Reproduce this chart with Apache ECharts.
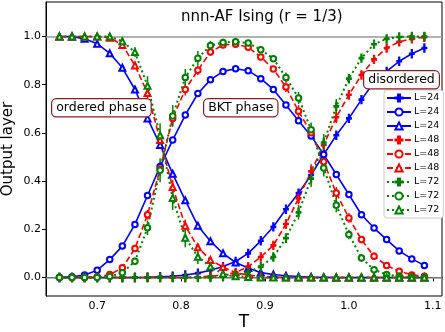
<!DOCTYPE html>
<html>
<head>
<meta charset="utf-8">
<script src="https://cdn.jsdelivr.net/npm/echarts@6/dist/echarts.min.js"></script>
<style>
html, body { margin: 0; padding: 0; background: #fff; }
#chart { width: 445px; height: 332px; }
</style>
</head>
<body>
<div id="chart"></div>
<script>
// temperatures
var temps = [0.655, 0.670, 0.685, 0.700, 0.715, 0.730, 0.745, 0.760, 0.775, 0.790,
             0.805, 0.820, 0.835, 0.850, 0.865, 0.880, 0.895, 0.910, 0.925, 0.940,
             0.955, 0.970, 0.985, 1.000, 1.015, 1.030, 1.045, 1.060, 1.075, 1.090];

// L=24
var dis24 = [0, 0, 0, 0, 0, 0, 0, 0.001, 0.003, 0.005, 0.01, 0.018, 0.03, 0.045, 0.066,
             0.10, 0.152, 0.21, 0.283, 0.35, 0.425, 0.51, 0.59, 0.66, 0.738, 0.81, 0.855, 0.897, 0.928, 0.952];
var bkt24 = [0, 0.003, 0.01, 0.03, 0.074, 0.13, 0.22, 0.34, 0.46, 0.57, 0.674, 0.763, 0.82, 0.855, 0.866,
             0.858, 0.825, 0.78, 0.716, 0.65, 0.587, 0.51, 0.427, 0.344, 0.26, 0.205, 0.157, 0.11, 0.077, 0.05];
var ord24 = [1.0, 1.0, 0.99, 0.97, 0.93, 0.87, 0.78, 0.66, 0.55, 0.43, 0.32, 0.215, 0.15, 0.10, 0.062,
             0.039, 0.02, 0.012, 0.007, 0.004, 0.002, 0.001, 0, 0, 0, 0, 0, 0, 0, 0];

// L=48
var dis48 = [0, 0, 0, 0, 0, 0, 0, 0, 0, 0, 0, 0.002, 0.005, 0.01, 0.02,
             0.045, 0.085, 0.133, 0.222, 0.328, 0.44, 0.55, 0.665, 0.758, 0.84, 0.905, 0.952, 0.978, 0.99, 0.997];
var bkt48 = [0, 0, 0, 0.003, 0.012, 0.04, 0.12, 0.26, 0.45, 0.66, 0.78, 0.86, 0.935, 0.965, 0.968,
             0.955, 0.915, 0.865, 0.79, 0.69, 0.60, 0.48, 0.35, 0.247, 0.157, 0.088, 0.05, 0.026, 0.01, 0.005];
var ord48 = [1, 1, 1, 1, 0.995, 0.965, 0.88, 0.765, 0.57, 0.375, 0.215, 0.125, 0.072, 0.043, 0.02,
             0.01, 0.005, 0.002, 0, 0, 0, 0, 0, 0, 0, 0, 0, 0, 0, 0];

// L=72
var dis72 = [0, 0, 0, 0, 0, 0, 0, 0, 0, 0, 0, 0, 0, 0.003, 0.01,
             0.022, 0.045, 0.085, 0.163, 0.27, 0.41, 0.56, 0.71, 0.825, 0.91, 0.968, 0.99, 0.998, 1.0, 1.0];
var bkt72 = [0, 0, 0, 0, 0.004, 0.019, 0.067, 0.206, 0.445, 0.67, 0.83, 0.91, 0.962, 0.975, 0.978,
             0.973, 0.945, 0.908, 0.83, 0.745, 0.613, 0.454, 0.30, 0.178, 0.081, 0.032, 0.012, 0.005, 0.002, 0];
var ord72 = [1, 1, 1, 1, 1, 0.98, 0.935, 0.795, 0.59, 0.33, 0.165, 0.086, 0.045, 0.015, 0.005,
             0.002, 0, 0, 0, 0, 0, 0, 0, 0, 0, 0, 0, 0, 0, 0];

// error bars (half length)
var dis48Err = [0, 0, 0, 0, 0, 0, 0, 0, 0, 0, 0, 0, 0, 0, 0,
                0, 0, 0.015, 0.02, 0.025, 0.03, 0.03, 0.025, 0.02, 0.015, 0.01, 0, 0, 0, 0];
var bkt48Err = [0, 0, 0, 0, 0, 0, 0, 0.02, 0.03, 0.03, 0.025, 0.02, 0.015, 0, 0,
                0, 0, 0, 0.02, 0.025, 0.025, 0.03, 0.025, 0.02, 0.015, 0.015, 0, 0, 0, 0];
var ord48Err = [0, 0, 0, 0, 0, 0, 0.015, 0.025, 0.03, 0.03, 0.025, 0.015, 0.01, 0, 0,
                0, 0, 0, 0, 0, 0, 0, 0, 0, 0, 0, 0, 0, 0, 0];
var dis72Err = [0, 0, 0, 0, 0, 0, 0, 0, 0, 0, 0, 0, 0, 0, 0,
                0, 0, 0.015, 0.02, 0.03, 0.035, 0.035, 0.03, 0.02, 0.01, 0, 0, 0, 0, 0];
var bkt72Err = [0, 0, 0, 0, 0, 0, 0.015, 0.03, 0.05, 0.045, 0.035, 0.03, 0.02, 0.015, 0,
                0, 0, 0, 0.02, 0.025, 0.03, 0.035, 0.03, 0.02, 0.015, 0, 0, 0, 0, 0];
var ord72Err = [0, 0, 0, 0, 0, 0, 0.02, 0.04, 0.05, 0.05, 0.04, 0.03, 0.015, 0, 0,
                0, 0, 0, 0, 0, 0, 0, 0, 0, 0, 0, 0, 0, 0, 0];

var xTicks = [0.7, 0.8, 0.9, 1.0, 1.1];
var yTicks = [0, 0.2, 0.4, 0.6, 0.8, 1.0];

var BLUE = '#0000ff', RED = '#ff0000', GREEN = '#008000';
var plusSym = 'path://M-0.6,-4H0.6V-0.6H2.2V0.6H0.6V4H-0.6V0.6H-2.2V-0.6H-0.6Z';

function pts(ys) {
    return temps.map(function (t, i) { return [t, ys[i]]; });
}

function lineSeries(name, ys, color, dash, width, symbol, size) {
    return {
        name: name,
        type: 'line',
        data: pts(ys),
        symbol: symbol,
        symbolSize: size,
        showAllSymbol: true,
        lineStyle: { color: color, width: width, type: dash },
        itemStyle: { color: color, borderColor: color, borderWidth: 1.1 },
        emphasis: { disabled: true }
    };
}

function errSeries(ys, errs, color) {
    return {
        type: 'custom',
        silent: true,
        data: temps.map(function (t, i) { return [t, ys[i], errs[i]]; }),
        encode: { x: 0, y: 1 },
        renderItem: function (params, api) {
            var e = api.value(2);
            if (!e) return;
            var x = api.value(0), y = api.value(1);
            var p1 = api.coord([x, y - e]), p2 = api.coord([x, y + e]);
            return {
                type: 'line',
                shape: { x1: p1[0], y1: p1[1], x2: p2[0], y2: p2[1] },
                style: { stroke: color, lineWidth: 1.5 }
            };
        }
    };
}

var series = [
    lineSeries('L=24 a', dis24, BLUE, 'solid', 1.6, plusSym, [5, 8]),
    lineSeries('L=24 b', bkt24, BLUE, 'solid', 1.6, 'emptyCircle', 5.5),
    lineSeries('L=24 c', ord24, BLUE, 'solid', 1.6, 'emptyTriangle', 6),
    lineSeries('L=48 a', dis48, RED, [6, 3], 1.6, plusSym, [5, 8]),
    lineSeries('L=48 b', bkt48, RED, [6, 3], 1.6, 'emptyCircle', 5.5),
    lineSeries('L=48 c', ord48, RED, [6, 3], 1.6, 'emptyTriangle', 6),
    lineSeries('L=72 a', dis72, GREEN, [2, 3], 2, plusSym, [5, 8]),
    lineSeries('L=72 b', bkt72, GREEN, [2, 3], 2, 'emptyCircle', 5.5),
    lineSeries('L=72 c', ord72, GREEN, [2, 3], 2, 'emptyTriangle', 6),
    errSeries(dis48, dis48Err, RED),
    errSeries(bkt48, bkt48Err, RED),
    errSeries(ord48, ord48Err, RED),
    errSeries(dis72, dis72Err, GREEN),
    errSeries(bkt72, bkt72Err, GREEN),
    errSeries(ord72, ord72Err, GREEN)
];

// gray reference lines at 0 and 1
series[0].markLine = {
    silent: true,
    symbol: 'none',
    label: { show: false },
    lineStyle: { color: '#999', width: 1.5, type: 'solid' },
    data: [{ yAxis: 0 }, { yAxis: 1 }],
    z: 1
};

var legendNames = series.slice(0, 9).map(function (s) { return s.name; });

function boxText(txt, left, top) {
    return {
        type: 'text',
        left: left,
        top: top,
        z: 100,
        style: {
            text: txt,
            font: '12.5px "DejaVu Sans"',
            fill: '#000',
            backgroundColor: '#fff',
            borderColor: '#8b1c1c',
            borderWidth: 1.2,
            borderRadius: 4,
            padding: [2, 4, 2, 4]
        }
    };
}

var chart = echarts.init(document.getElementById('chart'));
chart.setOption({
    animation: false,
    textStyle: { fontFamily: 'DejaVu Sans' },
    title: {
        text: 'nnn-AF Ising (r = 1/3)',
        left: 181,
        top: 10,
        padding: 0,
        textStyle: { fontSize: 15, fontWeight: 'normal', color: '#000', fontFamily: 'DejaVu Sans' }
    },
    grid: {
        left: 46, right: 3, top: 2, bottom: 36,
        outerBoundsMode: 'none',
        containLabel: false,
        show: true, borderColor: '#000', borderWidth: 1, backgroundColor: 'transparent'
    },
    legend: {
        data: legendNames,
        orient: 'vertical',
        left: 384,
        top: 90,
        itemWidth: 24,
        itemHeight: 9,
        itemGap: 4,
        padding: [3, 4, 3, 2],
        backgroundColor: '#fff',
        borderColor: '#ccc',
        borderWidth: 1,
        borderRadius: 3,
        z: 50,
        formatter: function (n) { return n.split(' ')[0]; },
        textStyle: { fontSize: 9.5, lineHeight: 9, color: '#000', fontFamily: 'DejaVu Sans', padding: [0, 0, 0, -2] }
    },
    xAxis: {
        type: 'value',
        min: 0.639,
        max: 1.111,
        name: 'T',
        nameLocation: 'middle',
        nameGap: 18,
        nameMoveOverlap: false,
        nameTextStyle: { fontSize: 17, color: '#000' },
        axisLine: { lineStyle: { color: '#000' } },
        axisTick: { show: true, length: 4, customValues: xTicks, lineStyle: { color: '#000' } },
        axisLabel: { customValues: xTicks, fontSize: 11, color: '#000', margin: 5, formatter: function (v) { return v.toFixed(1); } },
        splitLine: { show: false }
    },
    yAxis: {
        type: 'value',
        min: -0.077,
        max: 1.143,
        name: 'Output layer',
        nameLocation: 'middle',
        nameGap: 30,
        nameMoveOverlap: false,
        nameTextStyle: { fontSize: 15, color: '#000' },
        axisLine: { lineStyle: { color: '#000' } },
        axisTick: { show: true, length: 4, customValues: yTicks, lineStyle: { color: '#000' } },
        axisLabel: { customValues: yTicks, fontSize: 11, color: '#000', margin: 5, formatter: function (v) { return v.toFixed(1); } },
        splitLine: { show: false }
    },
    graphic: [
        boxText('ordered phase', 51, 98),
        boxText('BKT phase', 203, 98),
        boxText('disordered', 363, 70)
    ],
    series: series
});
</script>
</body>
</html>
